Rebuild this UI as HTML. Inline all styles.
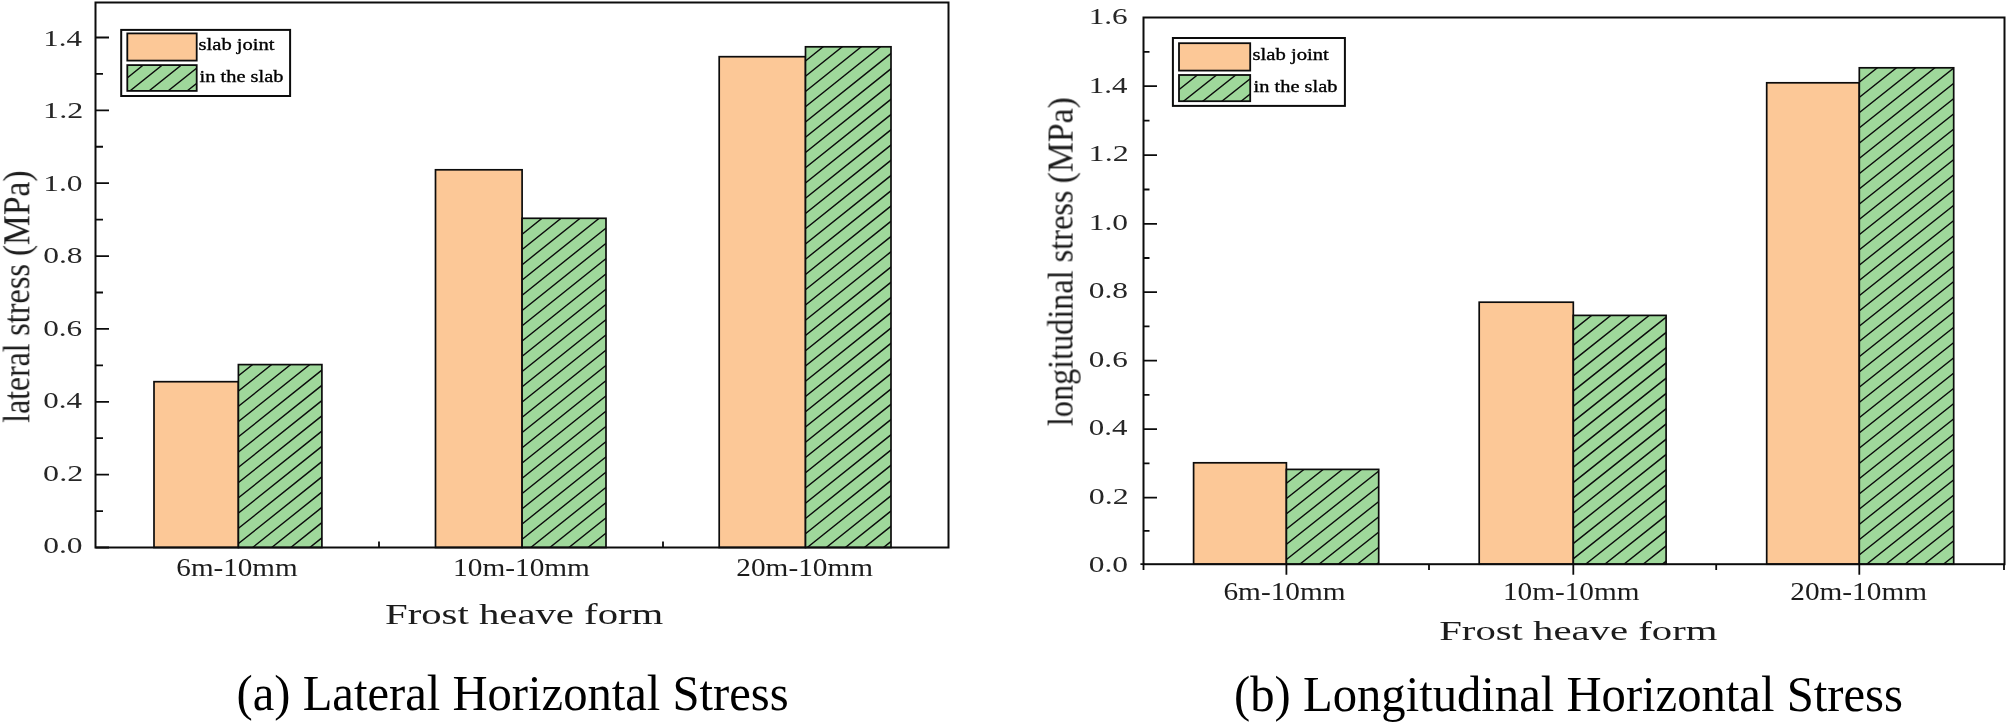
<!DOCTYPE html>
<html lang="en"><head><meta charset="utf-8"><title>Horizontal stress charts</title>
<style>html,body{margin:0;padding:0;background:#fff}svg{display:block}</style></head>
<body><svg width="2007" height="724" viewBox="0 0 2007 724">
<rect width="2007" height="724" fill="#fff"/>
<rect x="154.00" y="381.70" width="84.40" height="165.80" fill="#fcc897" stroke="#0c0c0c" stroke-width="1.7"/>
<clipPath id="c1"><rect x="238.40" y="364.60" width="83.50" height="182.90"/></clipPath>
<rect x="238.40" y="364.60" width="83.50" height="182.90" fill="#9fd89b"/>
<path clip-path="url(#c1)" d="M236.40,377.50 L323.90,307.50 M236.40,392.75 L323.90,322.75 M236.40,408.00 L323.90,338.00 M236.40,423.25 L323.90,353.25 M236.40,438.50 L323.90,368.50 M236.40,453.75 L323.90,383.75 M236.40,469.00 L323.90,399.00 M236.40,484.25 L323.90,414.25 M236.40,499.50 L323.90,429.50 M236.40,514.75 L323.90,444.75 M236.40,530.00 L323.90,460.00 M236.40,545.25 L323.90,475.25 M236.40,560.50 L323.90,490.50 M236.40,575.75 L323.90,505.75 M236.40,591.00 L323.90,521.00 M236.40,606.25 L323.90,536.25" stroke="#0c0c0c" stroke-width="1.4" fill="none"/>
<rect x="238.40" y="364.60" width="83.50" height="182.90" fill="none" stroke="#0c0c0c" stroke-width="1.7"/>
<rect x="435.50" y="169.80" width="86.60" height="377.70" fill="#fcc897" stroke="#0c0c0c" stroke-width="1.7"/>
<clipPath id="c2"><rect x="522.10" y="218.30" width="83.90" height="329.20"/></clipPath>
<rect x="522.10" y="218.30" width="83.90" height="329.20" fill="#9fd89b"/>
<path clip-path="url(#c2)" d="M520.10,220.55 L608.00,150.23 M520.10,235.80 L608.00,165.48 M520.10,251.05 L608.00,180.73 M520.10,266.30 L608.00,195.98 M520.10,281.55 L608.00,211.23 M520.10,296.80 L608.00,226.48 M520.10,312.05 L608.00,241.73 M520.10,327.30 L608.00,256.98 M520.10,342.55 L608.00,272.23 M520.10,357.80 L608.00,287.48 M520.10,373.05 L608.00,302.73 M520.10,388.30 L608.00,317.98 M520.10,403.55 L608.00,333.23 M520.10,418.80 L608.00,348.48 M520.10,434.05 L608.00,363.73 M520.10,449.30 L608.00,378.98 M520.10,464.55 L608.00,394.23 M520.10,479.80 L608.00,409.48 M520.10,495.05 L608.00,424.73 M520.10,510.30 L608.00,439.98 M520.10,525.55 L608.00,455.23 M520.10,540.80 L608.00,470.48 M520.10,556.05 L608.00,485.73 M520.10,571.30 L608.00,500.98 M520.10,586.55 L608.00,516.23 M520.10,601.80 L608.00,531.48" stroke="#0c0c0c" stroke-width="1.4" fill="none"/>
<rect x="522.10" y="218.30" width="83.90" height="329.20" fill="none" stroke="#0c0c0c" stroke-width="1.7"/>
<rect x="719.20" y="56.70" width="86.30" height="490.80" fill="#fcc897" stroke="#0c0c0c" stroke-width="1.7"/>
<clipPath id="c3"><rect x="805.50" y="46.80" width="85.50" height="500.70"/></clipPath>
<rect x="805.50" y="46.80" width="85.50" height="500.70" fill="#9fd89b"/>
<path clip-path="url(#c3)" d="M803.50,62.50 L893.00,-9.10 M803.50,77.75 L893.00,6.15 M803.50,93.00 L893.00,21.40 M803.50,108.25 L893.00,36.65 M803.50,123.50 L893.00,51.90 M803.50,138.75 L893.00,67.15 M803.50,154.00 L893.00,82.40 M803.50,169.25 L893.00,97.65 M803.50,184.50 L893.00,112.90 M803.50,199.75 L893.00,128.15 M803.50,215.00 L893.00,143.40 M803.50,230.25 L893.00,158.65 M803.50,245.50 L893.00,173.90 M803.50,260.75 L893.00,189.15 M803.50,276.00 L893.00,204.40 M803.50,291.25 L893.00,219.65 M803.50,306.50 L893.00,234.90 M803.50,321.75 L893.00,250.15 M803.50,337.00 L893.00,265.40 M803.50,352.25 L893.00,280.65 M803.50,367.50 L893.00,295.90 M803.50,382.75 L893.00,311.15 M803.50,398.00 L893.00,326.40 M803.50,413.25 L893.00,341.65 M803.50,428.50 L893.00,356.90 M803.50,443.75 L893.00,372.15 M803.50,459.00 L893.00,387.40 M803.50,474.25 L893.00,402.65 M803.50,489.50 L893.00,417.90 M803.50,504.75 L893.00,433.15 M803.50,520.00 L893.00,448.40 M803.50,535.25 L893.00,463.65 M803.50,550.50 L893.00,478.90 M803.50,565.75 L893.00,494.15 M803.50,581.00 L893.00,509.40 M803.50,596.25 L893.00,524.65 M803.50,611.50 L893.00,539.90" stroke="#0c0c0c" stroke-width="1.4" fill="none"/>
<rect x="805.50" y="46.80" width="85.50" height="500.70" fill="none" stroke="#0c0c0c" stroke-width="1.7"/>
<rect x="95.5" y="2.5" width="853.0" height="545.0" fill="none" stroke="#0c0c0c" stroke-width="2"/>
<path d="M95.5,547.50 h13.5 M95.5,511.07 h7.5 M95.5,474.64 h13.5 M95.5,438.21 h7.5 M95.5,401.78 h13.5 M95.5,365.35 h7.5 M95.5,328.92 h13.5 M95.5,292.49 h7.5 M95.5,256.06 h13.5 M95.5,219.63 h7.5 M95.5,183.20 h13.5 M95.5,146.77 h7.5 M95.5,110.34 h13.5 M95.5,73.91 h7.5 M95.5,37.48 h13.5 M379,547.5 v-6 M663,547.5 v-6" stroke="#0c0c0c" stroke-width="1.8" fill="none"/>
<rect x="121.2" y="29.9" width="168.90" height="66.10" fill="#fff" stroke="#0c0c0c" stroke-width="2"/>
<rect x="127.30" y="33.40" width="69.40" height="27.20" fill="#fcc897" stroke="#0c0c0c" stroke-width="1.8"/>
<clipPath id="c4"><rect x="127.30" y="65.10" width="69.40" height="25.80"/></clipPath>
<rect x="127.30" y="65.10" width="69.40" height="25.80" fill="#9fd89b"/>
<path clip-path="url(#c4)" d="M125.30,79.40 L198.70,20.68 M125.30,94.65 L198.70,35.93 M125.30,109.90 L198.70,51.18 M125.30,125.15 L198.70,66.43 M125.30,140.40 L198.70,81.68" stroke="#0c0c0c" stroke-width="1.4" fill="none"/>
<rect x="127.30" y="65.10" width="69.40" height="25.80" fill="none" stroke="#0c0c0c" stroke-width="1.8"/>
<rect x="1193.60" y="462.80" width="92.80" height="101.40" fill="#fcc897" stroke="#0c0c0c" stroke-width="1.7"/>
<clipPath id="c5"><rect x="1286.40" y="469.40" width="92.30" height="94.80"/></clipPath>
<rect x="1286.40" y="469.40" width="92.30" height="94.80" fill="#9fd89b"/>
<path clip-path="url(#c5)" d="M1284.40,484.99 L1380.70,408.43 M1284.40,500.24 L1380.70,423.68 M1284.40,515.49 L1380.70,438.93 M1284.40,530.74 L1380.70,454.18 M1284.40,545.99 L1380.70,469.43 M1284.40,561.24 L1380.70,484.68 M1284.40,576.49 L1380.70,499.93 M1284.40,591.74 L1380.70,515.18 M1284.40,606.99 L1380.70,530.43 M1284.40,622.24 L1380.70,545.68 M1284.40,637.49 L1380.70,560.93" stroke="#0c0c0c" stroke-width="1.4" fill="none"/>
<rect x="1286.40" y="469.40" width="92.30" height="94.80" fill="none" stroke="#0c0c0c" stroke-width="1.7"/>
<rect x="1479.20" y="302.20" width="94.10" height="262.00" fill="#fcc897" stroke="#0c0c0c" stroke-width="1.7"/>
<clipPath id="c6"><rect x="1573.30" y="315.40" width="92.80" height="248.80"/></clipPath>
<rect x="1573.30" y="315.40" width="92.80" height="248.80" fill="#9fd89b"/>
<path clip-path="url(#c6)" d="M1571.30,331.59 L1668.10,254.63 M1571.30,346.84 L1668.10,269.88 M1571.30,362.09 L1668.10,285.13 M1571.30,377.34 L1668.10,300.38 M1571.30,392.59 L1668.10,315.63 M1571.30,407.84 L1668.10,330.88 M1571.30,423.09 L1668.10,346.13 M1571.30,438.34 L1668.10,361.38 M1571.30,453.59 L1668.10,376.63 M1571.30,468.84 L1668.10,391.88 M1571.30,484.09 L1668.10,407.13 M1571.30,499.34 L1668.10,422.38 M1571.30,514.59 L1668.10,437.63 M1571.30,529.84 L1668.10,452.88 M1571.30,545.09 L1668.10,468.13 M1571.30,560.34 L1668.10,483.38 M1571.30,575.59 L1668.10,498.63 M1571.30,590.84 L1668.10,513.88 M1571.30,606.09 L1668.10,529.13 M1571.30,621.34 L1668.10,544.38 M1571.30,636.59 L1668.10,559.63" stroke="#0c0c0c" stroke-width="1.4" fill="none"/>
<rect x="1573.30" y="315.40" width="92.80" height="248.80" fill="none" stroke="#0c0c0c" stroke-width="1.7"/>
<rect x="1766.70" y="82.80" width="92.60" height="481.40" fill="#fcc897" stroke="#0c0c0c" stroke-width="1.7"/>
<clipPath id="c7"><rect x="1859.30" y="67.80" width="94.40" height="496.40"/></clipPath>
<rect x="1859.30" y="67.80" width="94.40" height="496.40" fill="#9fd89b"/>
<path clip-path="url(#c7)" d="M1857.30,83.69 L1955.70,5.46 M1857.30,98.94 L1955.70,20.71 M1857.30,114.19 L1955.70,35.96 M1857.30,129.44 L1955.70,51.21 M1857.30,144.69 L1955.70,66.46 M1857.30,159.94 L1955.70,81.71 M1857.30,175.19 L1955.70,96.96 M1857.30,190.44 L1955.70,112.21 M1857.30,205.69 L1955.70,127.46 M1857.30,220.94 L1955.70,142.71 M1857.30,236.19 L1955.70,157.96 M1857.30,251.44 L1955.70,173.21 M1857.30,266.69 L1955.70,188.46 M1857.30,281.94 L1955.70,203.71 M1857.30,297.19 L1955.70,218.96 M1857.30,312.44 L1955.70,234.21 M1857.30,327.69 L1955.70,249.46 M1857.30,342.94 L1955.70,264.71 M1857.30,358.19 L1955.70,279.96 M1857.30,373.44 L1955.70,295.21 M1857.30,388.69 L1955.70,310.46 M1857.30,403.94 L1955.70,325.71 M1857.30,419.19 L1955.70,340.96 M1857.30,434.44 L1955.70,356.21 M1857.30,449.69 L1955.70,371.46 M1857.30,464.94 L1955.70,386.71 M1857.30,480.19 L1955.70,401.96 M1857.30,495.44 L1955.70,417.21 M1857.30,510.69 L1955.70,432.46 M1857.30,525.94 L1955.70,447.71 M1857.30,541.19 L1955.70,462.96 M1857.30,556.44 L1955.70,478.21 M1857.30,571.69 L1955.70,493.46 M1857.30,586.94 L1955.70,508.71 M1857.30,602.19 L1955.70,523.96 M1857.30,617.44 L1955.70,539.21 M1857.30,632.69 L1955.70,554.46" stroke="#0c0c0c" stroke-width="1.4" fill="none"/>
<rect x="1859.30" y="67.80" width="94.40" height="496.40" fill="none" stroke="#0c0c0c" stroke-width="1.7"/>
<rect x="1143.5" y="17.5" width="861.0" height="546.70" fill="none" stroke="#0c0c0c" stroke-width="2"/>
<path d="M1143.5,497.60 h13.5 M1143.5,530.90 h6 M1143.5,429.20 h13.5 M1143.5,463.40 h6 M1143.5,360.60 h13.5 M1143.5,394.90 h6 M1143.5,292.20 h13.5 M1143.5,326.40 h6 M1143.5,223.80 h13.5 M1143.5,258.00 h6 M1143.5,155.20 h13.5 M1143.5,189.50 h6 M1143.5,86.20 h13.5 M1143.5,120.70 h6 M1143.5,51.85 h6 M1140.4,564.2 h4 M1286.4,564.2 v10.5 M1573.3,564.2 v10.5 M1859.3,564.2 v10.5 M1143.5,564.2 v5.8 M1429,564.2 v5.8 M1716.2,564.2 v5.8 M2004.0,564.2 v5.8" stroke="#0c0c0c" stroke-width="1.8" fill="none"/>
<rect x="1172.9" y="38" width="172.00" height="67.90" fill="#fff" stroke="#0c0c0c" stroke-width="2"/>
<rect x="1179.00" y="43.20" width="71.20" height="27.40" fill="#fcc897" stroke="#0c0c0c" stroke-width="1.8"/>
<clipPath id="c8"><rect x="1179.00" y="75.00" width="71.20" height="26.20"/></clipPath>
<rect x="1179.00" y="75.00" width="71.20" height="26.20" fill="#9fd89b"/>
<path clip-path="url(#c8)" d="M1177.00,91.19 L1252.20,31.41 M1177.00,106.44 L1252.20,46.66 M1177.00,121.69 L1252.20,61.91 M1177.00,136.94 L1252.20,77.16 M1177.00,152.19 L1252.20,92.41" stroke="#0c0c0c" stroke-width="1.4" fill="none"/>
<rect x="1179.00" y="75.00" width="71.20" height="26.20" fill="none" stroke="#0c0c0c" stroke-width="1.8"/>
<defs><filter id="soft" x="-5%" y="-5%" width="110%" height="110%"><feGaussianBlur stdDeviation="0.45"/></filter></defs>
<g font-family="'Liberation Serif', serif" filter="url(#soft)">
<text transform="translate(43.14,553.10) scale(1.3251,1.0000)" font-size="23.8" fill="#262626">0.0</text>
<text transform="translate(43.12,480.63) scale(1.3482,1.0000)" font-size="23.8" fill="#262626">0.2</text>
<text transform="translate(43.16,408.16) scale(1.3029,1.0000)" font-size="23.8" fill="#262626">0.4</text>
<text transform="translate(43.15,335.69) scale(1.3139,1.0000)" font-size="23.8" fill="#262626">0.6</text>
<text transform="translate(43.14,263.22) scale(1.3251,1.0000)" font-size="23.8" fill="#262626">0.8</text>
<text transform="translate(43.16,190.75) scale(1.3243,1.0000)" font-size="23.8" fill="#262626">1.0</text>
<text transform="translate(43.11,118.28) scale(1.3484,1.0000)" font-size="23.8" fill="#262626">1.2</text>
<text transform="translate(43.21,45.81) scale(1.3010,1.0000)" font-size="23.8" fill="#262626">1.4</text>
<text transform="translate(176.33,575.50) scale(1.2045,1.0000)" font-size="24.2" fill="#1a1a1a">6m-10mm</text>
<text transform="translate(453.11,575.50) scale(1.2120,1.0000)" font-size="24.2" fill="#1a1a1a">10m-10mm</text>
<text transform="translate(736.33,575.50) scale(1.2101,1.0000)" font-size="24.2" fill="#1a1a1a">20m-10mm</text>
<text transform="translate(385.03,623.75) scale(1.4148,1.0000)" font-size="28.8" fill="#1a1a1a">Frost heave form</text>
<text transform="translate(198.58,50.20) scale(1.2103,1.0000)" font-size="17" fill="#000" stroke="#000" stroke-width="0.35">slab joint</text>
<text transform="translate(199.59,81.50) scale(1.1997,1.0000)" font-size="17" fill="#000" stroke="#000" stroke-width="0.35">in the slab</text>
<text transform="translate(1088.74,572.10) scale(1.3216,1.0000)" font-size="23.8" fill="#262626">0.0</text>
<text transform="translate(1088.72,503.60) scale(1.3445,1.0000)" font-size="23.8" fill="#262626">0.2</text>
<text transform="translate(1088.76,435.10) scale(1.2993,1.0000)" font-size="23.8" fill="#262626">0.4</text>
<text transform="translate(1088.75,366.60) scale(1.3104,1.0000)" font-size="23.8" fill="#262626">0.6</text>
<text transform="translate(1088.74,298.10) scale(1.3216,1.0000)" font-size="23.8" fill="#262626">0.8</text>
<text transform="translate(1088.66,229.60) scale(1.3243,1.0000)" font-size="23.8" fill="#262626">1.0</text>
<text transform="translate(1088.61,161.10) scale(1.3484,1.0000)" font-size="23.8" fill="#262626">1.2</text>
<text transform="translate(1088.71,92.60) scale(1.3010,1.0000)" font-size="23.8" fill="#262626">1.4</text>
<text transform="translate(1088.69,24.10) scale(1.3126,1.0000)" font-size="23.8" fill="#262626">1.6</text>
<text transform="translate(1223.43,600.40) scale(1.2125,1.0000)" font-size="24.2" fill="#1a1a1a">6m-10mm</text>
<text transform="translate(1502.97,600.40) scale(1.2089,1.0000)" font-size="24.2" fill="#1a1a1a">10m-10mm</text>
<text transform="translate(1790.23,600.40) scale(1.2119,1.0000)" font-size="24.2" fill="#1a1a1a">20m-10mm</text>
<text transform="translate(1439.18,640.10) scale(1.4395,1.0000)" font-size="28.3" fill="#1a1a1a">Frost heave form</text>
<text transform="translate(1252.57,60.20) scale(1.2520,1.0000)" font-size="16.5" fill="#000" stroke="#000" stroke-width="0.35">slab joint</text>
<text transform="translate(1253.59,91.70) scale(1.2361,1.0000)" font-size="16.5" fill="#000" stroke="#000" stroke-width="0.35">in the slab</text>
<text transform="translate(29.40,422.10) rotate(-90) scale(1,1.1900)" font-size="32.4" fill="#1a1a1a" xml:space="preserve"><tspan x="-0.63" textLength="79.31" lengthAdjust="spacingAndGlyphs">lateral</tspan><tspan> </tspan><tspan x="86.20" textLength="72.04" lengthAdjust="spacingAndGlyphs">stress</tspan><tspan> </tspan><tspan x="165.96" textLength="85.66" lengthAdjust="spacingAndGlyphs">(MPa)</tspan></text>
<text transform="translate(1072.30,425.40) rotate(-90) scale(1,1.1200)" font-size="32.4" fill="#1a1a1a" xml:space="preserve"><tspan x="-0.64" textLength="155.59" lengthAdjust="spacingAndGlyphs">longitudinal</tspan><tspan> </tspan><tspan x="163.01" textLength="71.94" lengthAdjust="spacingAndGlyphs">stress</tspan><tspan> </tspan><tspan x="242.05" textLength="86.18" lengthAdjust="spacingAndGlyphs">(MPa)</tspan></text>
</g>
<g font-family="'Liberation Serif', serif">
<text transform="translate(236.55,709.50) scale(0.9784,1.0000)" font-size="49.7" fill="#000">(a) Lateral Horizontal Stress</text>
<text transform="translate(1234.05,710.60) scale(0.9791,1.0000)" font-size="49.7" fill="#000">(b) Longitudinal Horizontal Stress</text>
</g>
</svg></body></html>
